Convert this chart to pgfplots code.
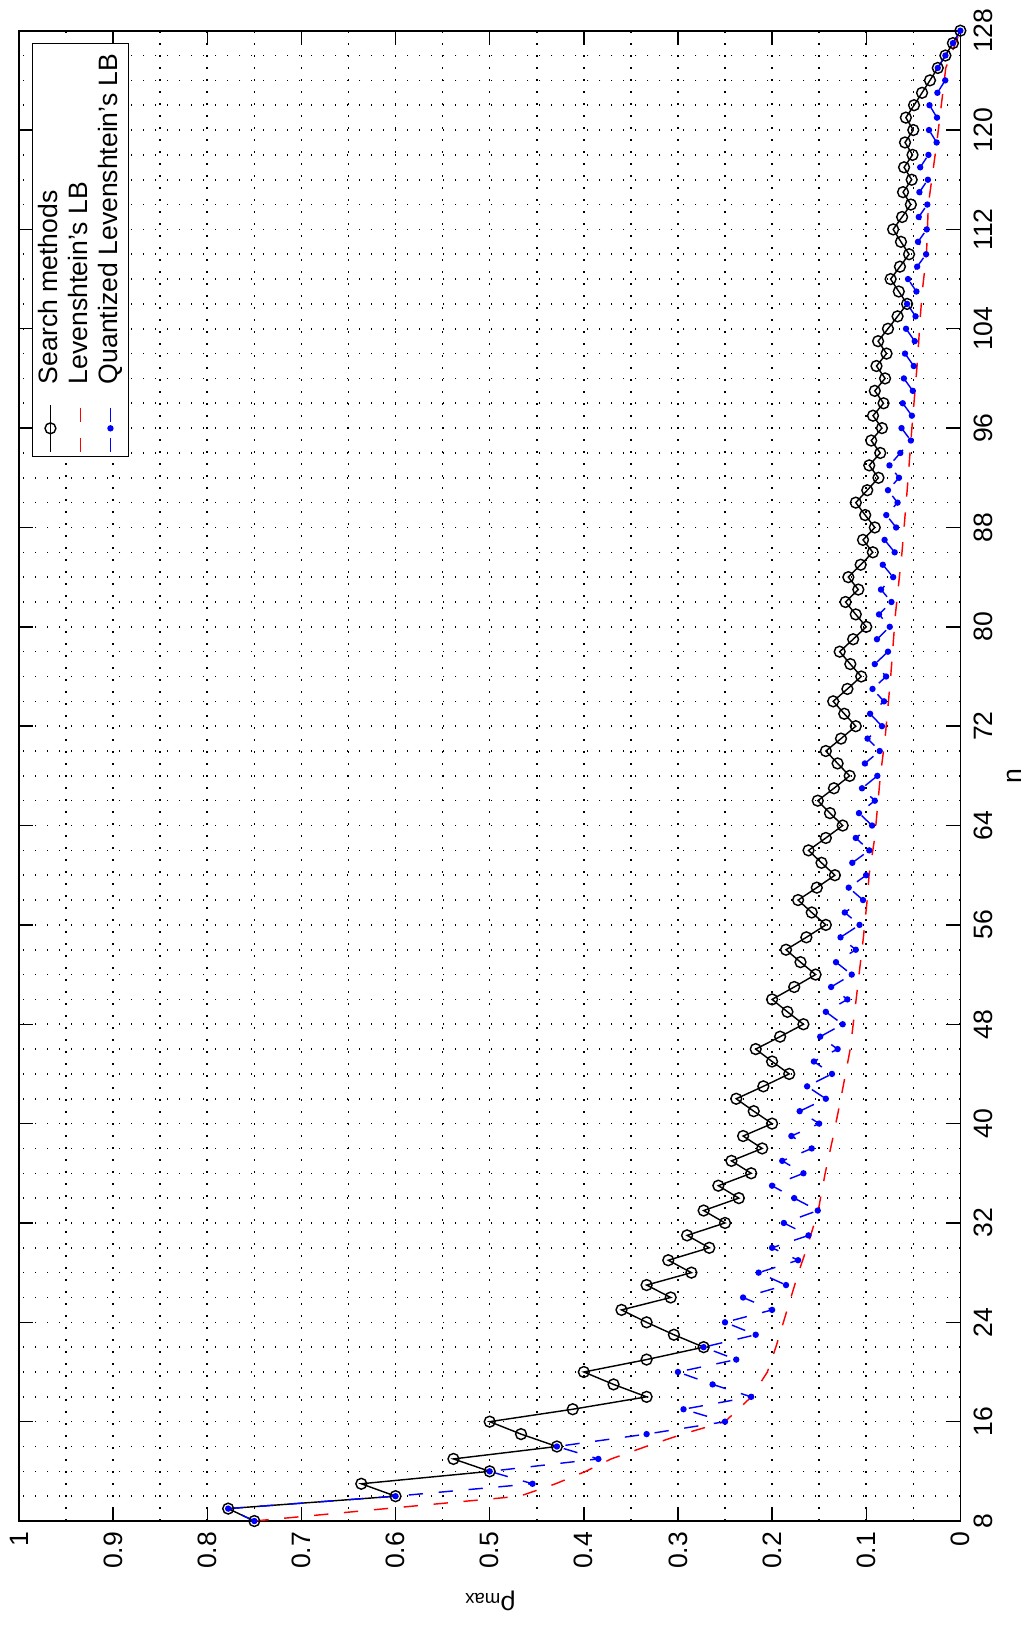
\documentclass[border=0pt]{standalone}
\usepackage{fontspec}
\setmainfont{Liberation Sans}
\usepackage{pgfplots}
\pgfplotsset{compat=1.18}
\newcommand{\fs}{\fontsize{9.3}{11}\selectfont}
\begin{document}
\begin{tikzpicture}[rotate=90, transform shape]
\begin{axis}[
  scale only axis,
  width=521.5pt, height=329.4pt,
  xmin=8, xmax=128, ymin=0, ymax=1,
  clip=false,
  xtick={8,16,24,32,40,48,56,64,72,80,88,96,104,112,120,128},
  xticklabels={8,16,24,32,40,48,56,64,72,80,88,96,104,112,120,128},
  ytick={0,0.1,0.2,0.3,0.4,0.5,0.6,0.7,0.8,0.9,1},
  yticklabels={0,0.1,0.2,0.3,0.4,0.5,0.6,0.7,0.8,0.9,1},
  minor x tick num=3, minor y tick num=1,
  grid=both,
  major grid style={black, line width=0.55pt, dash pattern=on 0.55pt off 3.65pt},
  minor grid style={black, line width=0.55pt, dash pattern=on 0.55pt off 3.65pt},
  tick align=inside,
  major tick length=4.9pt, minor tick length=0pt,
  tick style={black, line width=0.5pt},
  axis line style={line width=0.6pt},
  tick label style={font=\fs},
  xticklabel style={anchor=north, inner sep=0pt, yshift=-4.65pt},
  yticklabel style={anchor=east, inner sep=0pt, xshift=-3.6pt},
  xlabel={n},
  ylabel={ρ\textsubscript{max}},
  every axis x label/.style={at={(axis description cs:0.5,0)}, anchor=base, yshift=-21.5pt, font=\fs},
  every axis y label/.style={at={(axis description cs:0,0.5)}, xshift=-26.25pt, rotate=90, anchor=base, font=\fs},
  legend cell align=left,
  legend style={at={(rel axis cs:1,1)}, anchor=north east, xshift=-4.3pt, yshift=-4.55pt,
    draw=black, fill=white, font=\fs, inner xsep=1.5pt, inner ysep=1pt, row sep=0pt, column sep=5pt,
    nodes={inner xsep=2pt, inner ysep=1pt, text height=6.7pt, text depth=1.8pt}},
  legend image code/.code={\draw[mark repeat=2,mark phase=2,#1] plot coordinates {(0pt,0pt) (8.25pt,0pt) (16.5pt,0pt)};},
]
\addplot[black, line width=0.5pt, mark=o, mark size=1.9pt] coordinates {
(8,0.7500)(9,0.7778)(10,0.6000)(11,0.6364)(12,0.5000)(13,0.5385)(14,0.4286)(15,0.4667)
(16,0.5000)(17,0.4118)(18,0.3333)(19,0.3684)(20,0.4000)(21,0.3333)(22,0.2727)(23,0.3043)
(24,0.3333)(25,0.3600)(26,0.3077)(27,0.3333)(28,0.2857)(29,0.3103)(30,0.2667)(31,0.2903)
(32,0.2500)(33,0.2727)(34,0.2353)(35,0.2571)(36,0.2222)(37,0.2432)(38,0.2105)(39,0.2308)
(40,0.2000)(41,0.2195)(42,0.2381)(43,0.2093)(44,0.1818)(45,0.2000)(46,0.2174)(47,0.1915)
(48,0.1667)(49,0.1837)(50,0.2000)(51,0.1765)(52,0.1538)(53,0.1698)(54,0.1852)(55,0.1636)
(56,0.1429)(57,0.1579)(58,0.1724)(59,0.1525)(60,0.1333)(61,0.1475)(62,0.1613)(63,0.1429)
(64,0.1250)(65,0.1385)(66,0.1515)(67,0.1343)(68,0.1176)(69,0.1304)(70,0.1429)(71,0.1268)
(72,0.1111)(73,0.1233)(74,0.1351)(75,0.1200)(76,0.1053)(77,0.1169)(78,0.1282)(79,0.1139)
(80,0.1000)(81,0.1111)(82,0.1220)(83,0.1084)(84,0.1190)(85,0.1059)(86,0.0930)(87,0.1034)
(88,0.0909)(89,0.1011)(90,0.1111)(91,0.0989)(92,0.0870)(93,0.0968)(94,0.0851)(95,0.0947)
(96,0.0833)(97,0.0928)(98,0.0816)(99,0.0909)(100,0.0800)(101,0.0891)(102,0.0784)(103,0.0874)
(104,0.0769)(105,0.0667)(106,0.0566)(107,0.0654)(108,0.0741)(109,0.0642)(110,0.0545)(111,0.0631)
(112,0.0714)(113,0.0619)(114,0.0526)(115,0.0609)(116,0.0517)(117,0.0598)(118,0.0508)(119,0.0588)
(120,0.0500)(121,0.0579)(122,0.0492)(123,0.0407)(124,0.0323)(125,0.0240)(126,0.0159)(127,0.0079)
(128,0.0000)};
\addlegendentry{Search methods}
\addplot[red, line width=0.5pt, dash pattern=on 5pt off 5.5pt] coordinates {
(8,0.750)(9,0.610)(10,0.468)(11,0.430)(12,0.398)(13,0.371)(14,0.334)(15,0.295)(16,0.250)
(17,0.236)(18,0.222)(20,0.205)(22,0.196)(24,0.188)(26,0.180)(28,0.172)(30,0.163)(33,0.151)
(36,0.1436)(39,0.135)(42,0.127)(46,0.117)(50,0.1107)(55,0.103)(58,0.099)(60,0.097)(63,0.091)
(68,0.085)(71,0.080)(76,0.074)(81,0.069)(86,0.062)(91,0.0565)(96,0.0515)(101,0.046)
(105,0.0425)(107,0.0405)(110,0.036)(114,0.034)(119,0.025)(125,0.0155)(128,0)};
\addlegendentry{Levenshtein’s LB}
\addplot[blue, line width=0.5pt, dash pattern=on 5pt off 5.5pt, mark=*, mark size=0.85pt, mark options={solid}] coordinates {
(8,0.7500)(9,0.7778)(10,0.6000)(11,0.4545)(12,0.5000)(13,0.3846)(14,0.4286)(15,0.3333)
(16,0.2500)(17,0.2941)(18,0.2222)(19,0.2632)(20,0.3000)(21,0.2381)(22,0.2727)(23,0.2174)
(24,0.2500)(25,0.2000)(26,0.2308)(27,0.1852)(28,0.2143)(29,0.1724)(30,0.2000)(31,0.1613)
(32,0.1875)(33,0.1515)(34,0.1765)(35,0.2000)(36,0.1667)(37,0.1892)(38,0.1579)(39,0.1795)
(40,0.1500)(41,0.1707)(42,0.1429)(43,0.1628)(44,0.1364)(45,0.1556)(46,0.1304)(47,0.1489)
(48,0.1250)(49,0.1429)(50,0.1200)(51,0.1373)(52,0.1154)(53,0.1321)(54,0.1111)(55,0.1273)
(56,0.1071)(57,0.1228)(58,0.1034)(59,0.1186)(60,0.1000)(61,0.1148)(62,0.0968)(63,0.1111)
(64,0.0938)(65,0.1077)(66,0.0909)(67,0.1045)(68,0.0882)(69,0.1014)(70,0.0857)(71,0.0986)
(72,0.0833)(73,0.0959)(74,0.0811)(75,0.0933)(76,0.0789)(77,0.0909)(78,0.0769)(79,0.0886)
(80,0.0750)(81,0.0864)(82,0.0732)(83,0.0843)(84,0.0714)(85,0.0824)(86,0.0698)(87,0.0805)
(88,0.0682)(89,0.0787)(90,0.0667)(91,0.0769)(92,0.0652)(93,0.0753)(94,0.0638)(95,0.0526)
(96,0.0625)(97,0.0515)(98,0.0612)(99,0.0505)(100,0.0600)(101,0.0495)(102,0.0588)(103,0.0485)
(104,0.0577)(105,0.0476)(106,0.0566)(107,0.0467)(108,0.0556)(109,0.0459)(110,0.0364)(111,0.0450)
(112,0.0357)(113,0.0442)(114,0.0351)(115,0.0435)(116,0.0345)(117,0.0427)(118,0.0339)(119,0.0252)
(120,0.0333)(121,0.0248)(122,0.0328)(123,0.0244)(124,0.0161)(125,0.0240)(126,0.0159)(127,0.0079)
(128,0.0000)};
\addlegendentry{Quantized Levenshtein’s LB}
\path[draw=none] (rel axis cs:-0.0711,-0.0744) rectangle (rel axis cs:1.0206,1.0202);
\end{axis}
\end{tikzpicture}
\end{document}
